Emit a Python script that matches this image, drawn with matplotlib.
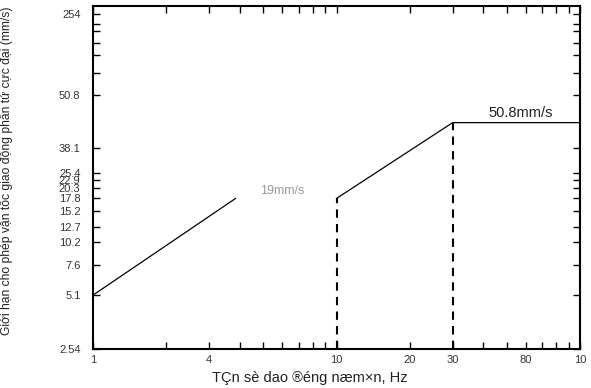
import numpy as np
import matplotlib
matplotlib.use('Agg')
import matplotlib.pyplot as plt
from matplotlib.ticker import FixedLocator, NullFormatter

plt.rcParams['font.family'] = ['Liberation Sans', 'DejaVu Sans']

# y tick labels as printed on the chart (the axis is not a true log scale)
y_ticks = [2.54, 5.1, 7.6, 10.2, 12.7, 15.2, 17.8, 20.3, 22.9, 25.4, 38.1, 50.8, 254]
y_tick_labels = ['2.54', '5.1', '7.6', '10.2', '12.7', '15.2', '17.8', '20.3', '22.9', '25.4', '38.1', '50.8', '254']
y_minor = [105, 150, 180, 210, 230]

x_ticks = [1, 3, 10, 20, 30, 60, 100]
x_tick_labels = ['1', '4', '10', '20', '30', '80', '10']

# gioi han van toc
seg1_x = [1, 3.85]
seg1_y = [5.1, 17.8]
seg2_x = [10, 30, 100]
seg2_y = [17.8, 44.1, 44.1]
dash_x = [10, 30]
dash_y = [17.8, 44.1]

# vi tri (px tu day truc) cua cac nhan tren truc y trong hinh goc
anchor_v = np.array(y_ticks + [300])
anchor_p = np.array([0, 54, 84, 107, 122, 138, 151, 161, 169, 177, 202, 255, 336, 344], dtype=float)


def fwd(v):
    v = np.asarray(v, dtype=float)
    return np.interp(v, anchor_v, anchor_p)


def inv(p):
    p = np.asarray(p, dtype=float)
    return np.interp(p, anchor_p, anchor_v)


fig = plt.figure(figsize=(5.91, 3.88), dpi=100)
ax = fig.add_axes([93 / 591, 39 / 388, 487 / 591, 343 / 388])

ax.set_xscale('log')
ax.set_yscale('function', functions=(fwd, inv))
ax.set_xlim(1, 100)
ax.set_ylim(2.54, 300)

ax.plot(seg1_x, seg1_y, color='black', lw=0.9)
ax.plot(seg2_x, seg2_y, color='black', lw=0.9)
for xv, yv in zip(dash_x, dash_y):
    ax.plot([xv, xv], [2.54, yv], color='black', lw=1.5, ls=(0, (4, 3)))

ax.annotate('50.8mm/s', xy=(57, seg2_y[-1]), xytext=(0, 2), textcoords='offset points',
            ha='center', va='bottom', fontsize=10.5, color='#222222')
ax.annotate('19mm/s', xy=(6.0, seg1_y[-1]), xytext=(0, 1), textcoords='offset points',
            ha='center', va='bottom', fontsize=9, color='#999999')

ax.yaxis.set_major_locator(FixedLocator(y_ticks))
ax.set_yticklabels(y_tick_labels)
ax.yaxis.set_minor_locator(FixedLocator(y_minor))
ax.yaxis.set_minor_formatter(NullFormatter())

ax.xaxis.set_major_locator(FixedLocator(x_ticks))
ax.set_xticklabels(x_tick_labels)
ax.xaxis.set_minor_formatter(NullFormatter())

ax.tick_params(which='both', direction='in', top=True, right=True, length=5, width=1,
               labelsize=8, labelcolor='#333333', pad=4)
ax.tick_params(axis='y', pad=9)
for s in ax.spines.values():
    s.set_linewidth(1.5)

ax.set_xlabel('TÇn sè dao ®éng næm×n, Hz', fontsize=10.5, color='#222222')
ax.xaxis.set_label_coords(0.446, -0.065)
ax.set_ylabel('Giới hạn cho phép vận tốc giao động phần tử cực đại (mm/s)',
              fontsize=8.7, color='#222222')
ax.yaxis.set_label_coords(-0.165, 0.52)

fig.savefig('out.png', dpi=100)
